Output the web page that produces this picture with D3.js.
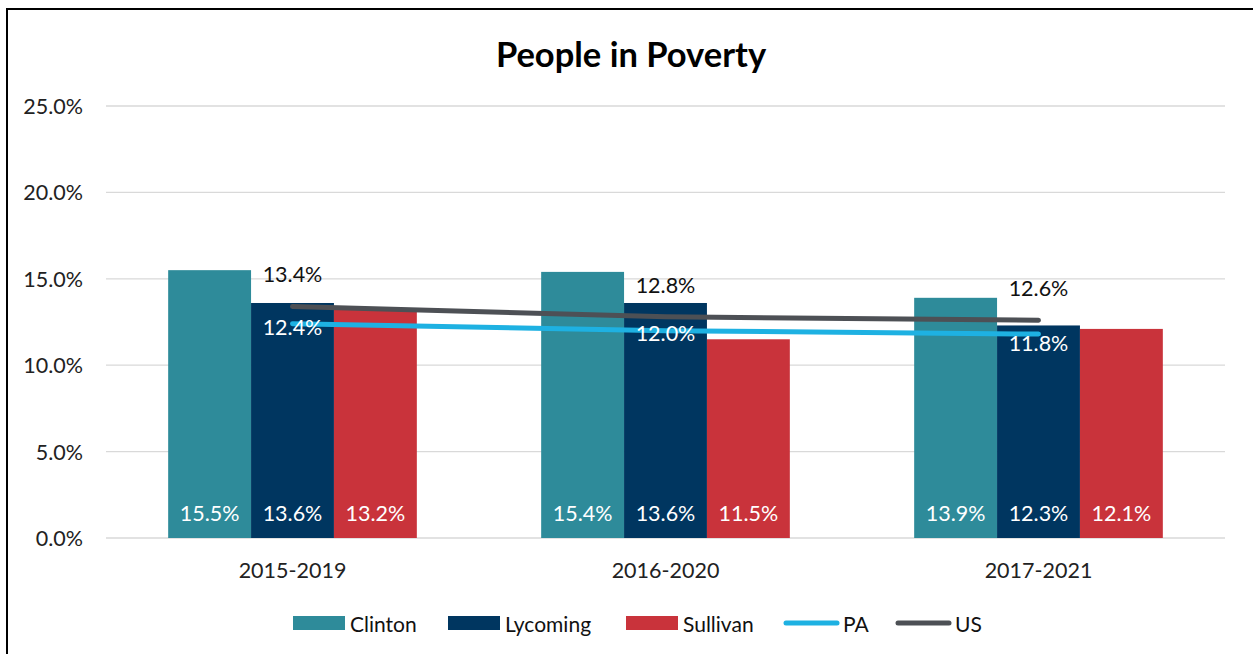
<!DOCTYPE html>
<html>
<head>
<meta charset="utf-8">
<script src="https://cdn.jsdelivr.net/npm/d3@7"></script>
<style>
  html, body { margin: 0; padding: 0; background: #fff; }
  svg { display: block; font-family: Lato, "Open Sans", sans-serif; }
</style>
</head>
<body>
<svg id="chart" width="1253" height="654"></svg>
<script>
// Poverty rates by 5-year ACS period
const periods = ["2015-2019", "2016-2020", "2017-2021"];
const barSeries = ["Clinton", "Lycoming", "Sullivan"];
const clinton = [15.5, 15.4, 13.9];
const lycoming = [13.6, 13.6, 12.3];
const sullivan = [13.2, 11.5, 12.1];
const pa = [12.4, 12.0, 11.8];
const us = [13.4, 12.8, 12.6];
const yTicks = [0, 5, 10, 15, 20, 25];

const colors = {
  Clinton: "#2E8B9A",
  Lycoming: "#003660",
  Sullivan: "#C9333B",
  PA: "#1EB1E2",
  US: "#4D5055"
};

const barValues = { Clinton: clinton, Lycoming: lycoming, Sullivan: sullivan };

const svg = d3.select("#chart");

// chart frame
svg.append("rect")
  .attr("x", 7).attr("y", 9)
  .attr("width", 1260).attr("height", 660)
  .attr("fill", "none").attr("stroke", "#000").attr("stroke-width", 2);

const plot = { left: 106, right: 1225, top: 106, bottom: 538 };

const x0 = d3.scaleBand().domain(periods).range([plot.left, plot.right]).padding(0);
const bw = x0.bandwidth();
const x1 = d3.scaleBand().domain(barSeries).range([bw / 6, bw * 5 / 6]).padding(0);
const y = d3.scaleLinear().domain([0, 25]).range([plot.bottom, plot.top]);

const numSize = 21.5;

// gridlines
svg.append("g")
  .selectAll("line").data(yTicks).join("line")
  .attr("x1", plot.left).attr("x2", plot.right)
  .attr("y1", d => y(d)).attr("y2", d => y(d))
  .attr("stroke", "#D9D9D9").attr("stroke-width", 1.3);

// y axis labels
svg.append("g")
  .selectAll("text").data(yTicks).join("text")
  .attr("x", 83).attr("y", d => y(d))
  .attr("text-anchor", "end").attr("dominant-baseline", "central")
  .attr("font-size", numSize).attr("fill", "#222")
  .text(d => d.toFixed(1) + "%");

// x axis labels
svg.append("g")
  .selectAll("text").data(periods).join("text")
  .attr("x", d => x0(d) + bw / 2).attr("y", 570)
  .attr("text-anchor", "middle").attr("dominant-baseline", "central")
  .attr("font-size", numSize).attr("fill", "#222")
  .text(d => d);

// bars
const barData = [];
periods.forEach((p, i) => barSeries.forEach(s => barData.push({ p, s, v: barValues[s][i] })));

svg.append("g")
  .selectAll("rect").data(barData).join("rect")
  .attr("x", d => x0(d.p) + x1(d.s))
  .attr("y", d => y(d.v))
  .attr("width", x1.bandwidth())
  .attr("height", d => y(0) - y(d.v))
  .attr("fill", d => colors[d.s]);

svg.append("g")
  .selectAll("text").data(barData).join("text")
  .attr("x", d => x0(d.p) + x1(d.s) + x1.bandwidth() / 2)
  .attr("y", 513)
  .attr("text-anchor", "middle").attr("dominant-baseline", "central")
  .attr("font-size", numSize).attr("fill", "#fff")
  .text(d => d.v.toFixed(1) + "%");

// lines
const line = d3.line()
  .x((d, i) => x0(periods[i]) + bw / 2)
  .y(d => y(d));

[["PA", pa], ["US", us]].forEach(([name, vals]) => {
  svg.append("path")
    .datum(vals)
    .attr("d", line)
    .attr("fill", "none")
    .attr("stroke", colors[name])
    .attr("stroke-width", 5)
    .attr("stroke-linecap", "round")
    .attr("stroke-linejoin", "round");
});

// line labels
const paOffsets = [3, 2, 9];
svg.append("g")
  .selectAll("text").data(pa).join("text")
  .attr("x", (d, i) => x0(periods[i]) + bw / 2)
  .attr("y", (d, i) => y(d) + paOffsets[i])
  .attr("text-anchor", "middle").attr("dominant-baseline", "central")
  .attr("font-size", numSize).attr("fill", "#fff")
  .text(d => d.toFixed(1) + "%");

svg.append("g")
  .selectAll("text").data(us).join("text")
  .attr("x", (d, i) => x0(periods[i]) + bw / 2)
  .attr("y", d => y(d) - 32)
  .attr("text-anchor", "middle").attr("dominant-baseline", "central")
  .attr("font-size", numSize).attr("fill", "#111")
  .text(d => d.toFixed(1) + "%");

// title
svg.append("text")
  .attr("x", 631).attr("y", 53)
  .attr("text-anchor", "middle").attr("dominant-baseline", "central")
  .attr("font-size", 34.5).attr("font-weight", "bold").attr("fill", "#000")
  .text("People in Poverty");

// legend
const legendItems = [
  { name: "Clinton", type: "bar", x: 293 },
  { name: "Lycoming", type: "bar", x: 448 },
  { name: "Sullivan", type: "bar", x: 626 },
  { name: "PA", type: "line", x: 786 },
  { name: "US", type: "line", x: 898 }
];
const lg = svg.append("g");
legendItems.forEach(it => {
  if (it.type === "bar") {
    lg.append("rect").attr("x", it.x).attr("y", 616).attr("width", 52).attr("height", 14)
      .attr("fill", colors[it.name]);
  } else {
    lg.append("line").attr("x1", it.x).attr("x2", it.x + 51).attr("y1", 623).attr("y2", 623)
      .attr("stroke", colors[it.name]).attr("stroke-width", 5).attr("stroke-linecap", "round");
  }
  lg.append("text").attr("x", it.x + 57).attr("y", 623)
    .attr("dominant-baseline", "central").attr("font-size", 21).attr("fill", "#111")
    .text(it.name);
});
</script>
</body>
</html>
